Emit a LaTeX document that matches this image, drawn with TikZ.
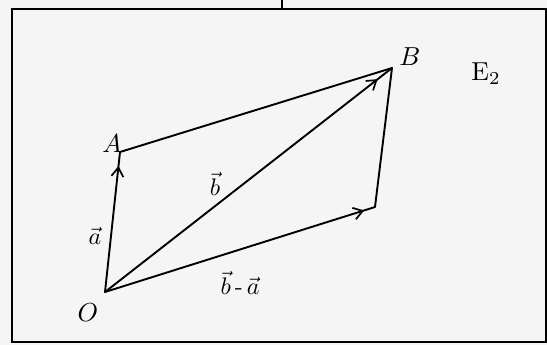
\documentclass[tikz,border=0pt]{standalone}
\usetikzlibrary{arrows.meta,decorations.markings}
\begin{document}
\begin{tikzpicture}[x=1pt,y=-1pt,
  edge/.style={line width=1.9pt,line cap=round,line join=round},
  midarrow/.style={edge,postaction={decorate},decoration={markings,
     mark=at position #1 with {\arrow{Straight Barb[length=9pt,width=12pt,line width=1.7pt]}}}},
  lbl/.style={scale=2.6,transform shape,inner sep=0pt},
  vlbl/.style={scale=2.4,transform shape,inner sep=0pt}]
\useasboundingbox (0,0) rectangle (547,345);
\fill[white!96!black] (0,0) rectangle (547,345);
% frame
\coordinate (f1) at (12,9);
\coordinate (f2) at (546,342);
\coordinate (t1) at (282,0);
\coordinate (t2) at (282,9);
\draw[line width=2pt] (f1) rectangle (f2);
\draw[line width=1.6pt] (t1) -- (t2);
% points
\coordinate (O) at (105,292);
\coordinate (A) at (120,152);
\coordinate (B) at (392,68);
\coordinate (C) at (375,207);
% sides
\draw[midarrow=0.9] (O) -- (A);
\draw[edge] (A) -- (B);
\draw[midarrow=0.95] (O) -- (B);
\draw[midarrow=0.96] (O) -- (C);
\draw[edge] (C) -- (B);
% labels
\node[lbl] (lO) at (88,313) {$O$};
\node[lbl] (lA) at (112,144) {$A$};
\node[lbl] (lB) at (410,57) {$B$};
\node[lbl] (lE) at (486,74) {$\mathrm{E}_2$};
\node[vlbl] (la) at (95,236) {$\vec{a}$};
\node[vlbl] (lb) at (215,184) {$\vec{b}$};
\node[vlbl] (lba) at (240,283) {$\vec{b}\,\mbox{-}\,\vec{a}$};
\end{tikzpicture}
\end{document}
